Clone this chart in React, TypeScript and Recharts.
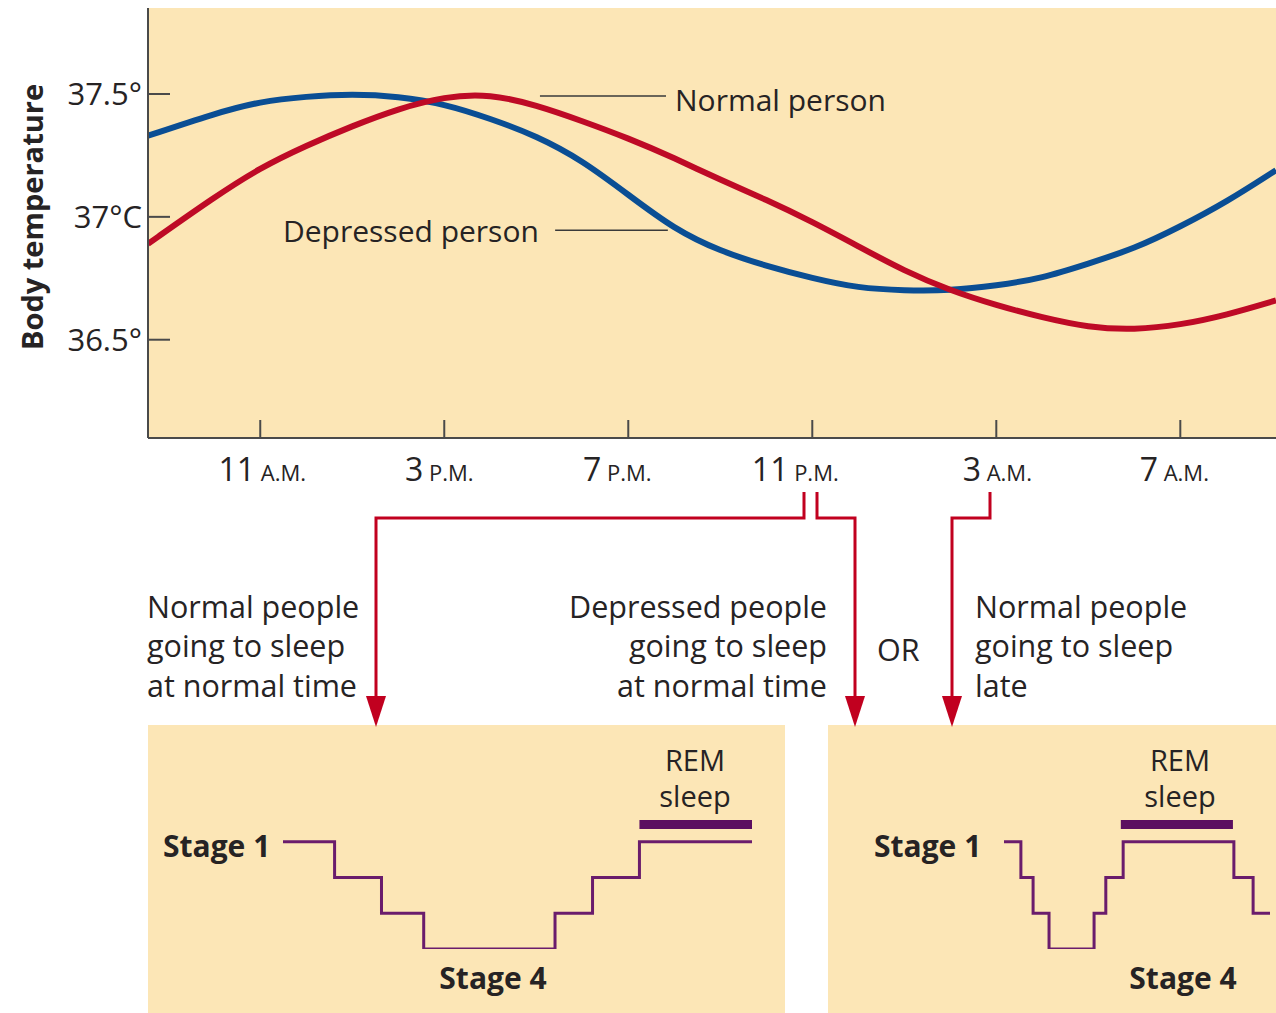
import React from 'react';
import { LineChart, Line, XAxis, YAxis, CartesianGrid, ReferenceLine } from 'recharts';

// ---------- Body temperature data (hour of day, 24+ = next day) ----------
const hours = [8.56, 10, 11, 12, 13, 14, 15, 16, 17, 18, 19, 20, 21, 22, 23, 24, 25, 26, 27, 28, 29, 30, 31, 32, 33.08];
const depressedTemp = [37.33, 37.42, 37.47, 37.49, 37.5, 37.49, 37.46, 37.4, 37.33, 37.23, 37.09, 36.95, 36.86, 36.8, 36.75, 36.71, 36.7, 36.7, 36.72, 36.75, 36.81, 36.87, 36.96, 37.06, 37.19];
const normalTemp = [36.89, 37.08, 37.2, 37.29, 37.37, 37.44, 37.49, 37.5, 37.455, 37.39, 37.32, 37.24, 37.15, 37.07, 36.98, 36.88, 36.78, 36.7, 36.64, 36.59, 36.55, 36.54, 36.56, 36.6, 36.66];

const xTickHours = [11, 15, 19, 23, 27, 31];
const xTickNumbers = ['11', '3', '7', '11', '3', '7'];
const xTickPeriods = ['A.M.', 'P.M.', 'P.M.', 'P.M.', 'A.M.', 'A.M.'];
const yTickValues = [36.5, 37, 37.5];
const yTickLabels = ['36.5°', '37°C', '37.5°'];

// horizontal nudges of the tick labels as drawn in the original figure
const xTickLabelShift = [2, -5, -11, -17, 1, -6];

// leader lines for the series labels (hour, temperature)
const normalLeader = [{ x: 17.08, y: 37.492 }, { x: 19.82, y: 37.492 }];
const depressedLeader = [{ x: 17.41, y: 36.946 }, { x: 19.86, y: 36.946 }];

// ---------- Sleep stage data (minutes after sleep onset) ----------
const normalSleepTime = [0, 11, 21, 30, 58, 66, 76, 100];
const normalSleepStage = [1, 2, 3, 4, 3, 2, 1, 1];
const normalRem = [76, 100];
const lateSleepTime = [0, 3.6, 6.2, 9.6, 19.2, 21.7, 25.4, 49, 53.1, 56.7];
const lateSleepStage = [1, 2, 3, 4, 3, 2, 1, 2, 3, 3];
const lateRem = [24.9, 48.8];
const REM_LEVEL = 0.52;

const tempData = hours.map((h, i) => ({ h, normal: normalTemp[i], depressed: depressedTemp[i] }));

const FONT = "'Open Sans', sans-serif";
const INK = '#262324';
const PEACH = '#FCE6B6';
const RED = '#BE0A26';
const BLUE = '#0A4E94';
const PURPLE = '#6A1C6C';
const PURPLE_DARK = '#5C0E60';
const ARROW = '#C1001F';
const AXIS = '#4a4a4a';

const YTick = (props: any) => {
  const { x, y, payload } = props;
  const idx = yTickValues.indexOf(payload.value);
  return (
    <g>
      <line x1={x + 6} x2={x + 28} y1={y} y2={y} stroke={AXIS} strokeWidth={2} />
      <text x={x} y={y} dy="0.36em" textAnchor="end" fontFamily={FONT} fontSize={31} fill={INK}>
        {yTickLabels[idx]}
      </text>
    </g>
  );
};

const XTick = (props: any) => {
  const { x, y, payload } = props;
  const idx = xTickHours.indexOf(payload.value);
  return (
    <g>
      <line x1={x} x2={x} y1={y - 18} y2={y} stroke={AXIS} strokeWidth={2} />
      <text x={x + xTickLabelShift[idx]} y={y + 43} textAnchor="middle" fontFamily={FONT} fill={INK}>
        <tspan fontSize={32}>{xTickNumbers[idx]}</tspan>
        <tspan fontSize={22}>{' ' + xTickPeriods[idx]}</tspan>
      </text>
    </g>
  );
};

function SleepPanel(props: any) {
  const { time, stage, rem, domainMax, width, height, margin } = props;
  const data = time.map((t: number, i: number) => ({ t, stage: stage[i] }));
  const remData = rem.map((t: number) => ({ t, rem: REM_LEVEL }));
  return (
    <LineChart width={width} height={height} margin={margin}>
      <XAxis type="number" dataKey="t" domain={[0, domainMax]} hide allowDataOverflow />
      <YAxis type="number" domain={[0, 4]} reversed hide allowDataOverflow />
      <Line data={data} dataKey="stage" type="stepAfter" stroke={PURPLE} strokeWidth={3} dot={false} activeDot={false} isAnimationActive={false} />
      <Line data={remData} dataKey="rem" type="linear" stroke={PURPLE_DARK} strokeWidth={9} strokeLinecap="butt" dot={false} activeDot={false} isAnimationActive={false} />
    </LineChart>
  );
}

export default function App() {
  const txt = { fontFamily: FONT, fill: INK } as any;
  return (
    <div style={{ position: 'absolute', left: 0, top: 0, width: 1276, height: 1013, background: '#fff', overflow: 'hidden' }}>
      <div style={{ position: 'absolute', left: 0, top: 0 }}>
        <LineChart width={1276} height={500} data={tempData} margin={{ top: 8, right: 0, bottom: 0, left: 0 }}>
          <CartesianGrid horizontal={false} vertical={false} fill={PEACH} fillOpacity={1} stroke="none" />
          <XAxis
            type="number"
            dataKey="h"
            domain={[8.56, 33.08]}
            ticks={xTickHours}
            allowDataOverflow
            height={62}
            tickSize={0}
            tickMargin={0}
            tickLine={false}
            axisLine={{ stroke: AXIS, strokeWidth: 2 }}
            tick={<XTick />}
            interval={0}
          />
          <YAxis
            type="number"
            domain={[36.1, 37.85]}
            ticks={yTickValues}
            allowDataOverflow
            width={148}
            tickSize={0}
            tickMargin={6}
            tickLine={false}
            axisLine={{ stroke: AXIS, strokeWidth: 2 }}
            tick={<YTick />}
            interval={0}
          />
          <ReferenceLine segment={normalLeader} stroke="#3a3a3a" strokeWidth={1.5} />
          <ReferenceLine segment={depressedLeader} stroke="#3a3a3a" strokeWidth={1.5} />
          <Line dataKey="depressed" type="basis" stroke={BLUE} strokeWidth={6} dot={false} activeDot={false} isAnimationActive={false} />
          <Line dataKey="normal" type="basis" stroke={RED} strokeWidth={6} dot={false} activeDot={false} isAnimationActive={false} />
        </LineChart>
      </div>

      <div style={{ position: 'absolute', left: 148, top: 725, width: 637, height: 288, background: PEACH }}>
        <SleepPanel time={normalSleepTime} stage={normalSleepStage} rem={normalRem} domainMax={100}
          width={637} height={288} margin={{ top: 81, right: 33, bottom: 64, left: 135 }} />
      </div>
      <div style={{ position: 'absolute', left: 828, top: 725, width: 448, height: 288, background: PEACH }}>
        <SleepPanel time={lateSleepTime} stage={lateSleepStage} rem={lateRem} domainMax={56.7}
          width={448} height={288} margin={{ top: 81, right: 6, bottom: 64, left: 176 }} />
      </div>

      <svg width={1276} height={1013} style={{ position: 'absolute', left: 0, top: 0, pointerEvents: 'none' }}>
        <text transform="translate(43,217) rotate(-90)" textAnchor="middle" fontWeight="bold" fontSize={29} {...txt}>Body temperature</text>
        <text x={675} y={111} fontSize={30} {...txt}>Normal person</text>
        <text x={283} y={242} fontSize={30} {...txt}>Depressed person</text>

        <g stroke={ARROW} strokeWidth={3} fill="none">
          <path d="M804 492 V518 H376 V700" />
          <path d="M817 492 V518 H855 V700" />
          <path d="M990 492 V518 H952 V700" />
        </g>
        <g fill={ARROW}>
          <polygon points="366,696 386,696 376,727" />
          <polygon points="845,696 865,696 855,727" />
          <polygon points="942,696 962,696 952,727" />
        </g>

        <g fontSize={30.5} {...txt}>
          <text x={147} y={618}>Normal people</text>
          <text x={147} y={657}>going to sleep</text>
          <text x={147} y={697}>at normal time</text>
          <text x={827} y={618} textAnchor="end">Depressed people</text>
          <text x={827} y={657} textAnchor="end">going to sleep</text>
          <text x={827} y={697} textAnchor="end">at normal time</text>
          <text x={877} y={661}>OR</text>
          <text x={975} y={618}>Normal people</text>
          <text x={975} y={657}>going to sleep</text>
          <text x={975} y={697}>late</text>
        </g>

        <g {...txt}>
          <text x={163} y={857} fontSize={30} fontWeight="bold">Stage 1</text>
          <text x={493} y={989} fontSize={30} fontWeight="bold" textAnchor="middle">Stage 4</text>
          <text x={695} y={771} fontSize={29} textAnchor="middle">REM</text>
          <text x={695} y={807} fontSize={29} textAnchor="middle">sleep</text>
          <text x={874} y={857} fontSize={30} fontWeight="bold">Stage 1</text>
          <text x={1183} y={989} fontSize={30} fontWeight="bold" textAnchor="middle">Stage 4</text>
          <text x={1180} y={771} fontSize={29} textAnchor="middle">REM</text>
          <text x={1180} y={807} fontSize={29} textAnchor="middle">sleep</text>
        </g>
      </svg>
    </div>
  );
}
